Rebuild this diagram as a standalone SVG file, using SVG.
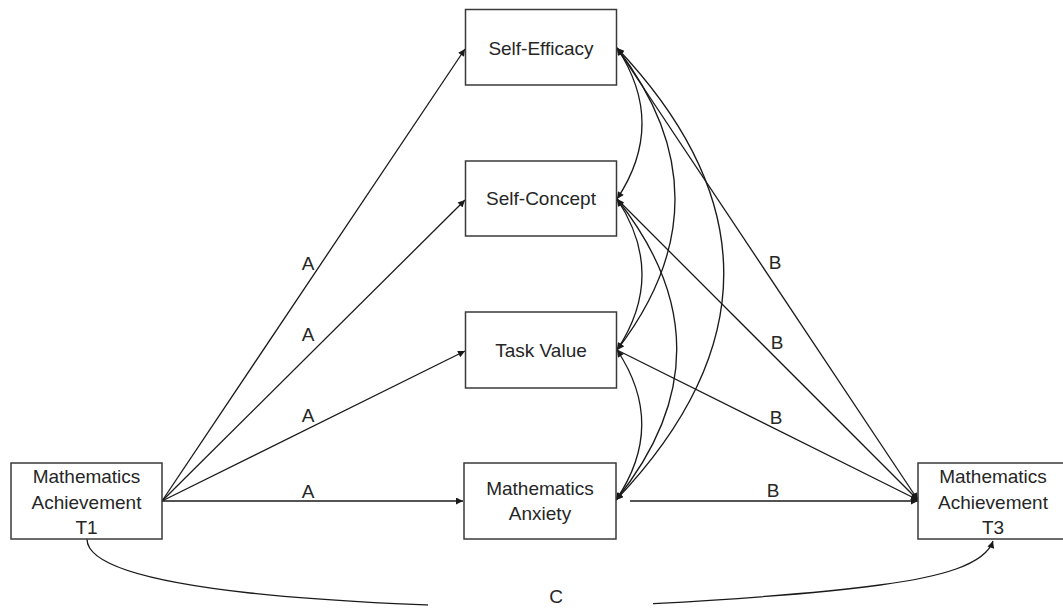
<svg xmlns="http://www.w3.org/2000/svg" width="1063" height="609" viewBox="0 0 1063 609">
<style>
.box{fill:#fff;stroke:#3a3a3a;stroke-width:1.5}
.t{font-family:"Liberation Sans",Arial,sans-serif;font-size:19px;fill:#262626;text-anchor:middle}
.lbl{font-family:"Liberation Sans",Arial,sans-serif;font-size:19px;fill:#262626;text-anchor:middle}
.c{fill:none;stroke:#1a1a1a;stroke-width:1.3}
</style>
<defs>
<marker id="ah" viewBox="0 0 10 10" refX="10" refY="5" markerWidth="10" markerHeight="7" markerUnits="userSpaceOnUse" orient="auto-start-reverse">
<path d="M0,0 L10,5 L0,10 z" fill="#1a1a1a"/>
</marker>
</defs>
<g id="connectors">
<line class="c" x1="162" y1="501" x2="465" y2="49" marker-end="url(#ah)"/>
<line class="c" x1="162" y1="501" x2="465" y2="200" marker-end="url(#ah)"/>
<line class="c" x1="162" y1="501" x2="465" y2="351" marker-end="url(#ah)"/>
<line class="c" x1="162" y1="501" x2="463" y2="501" marker-end="url(#ah)"/>
<line class="c" x1="617" y1="48" x2="918" y2="500" marker-end="url(#ah)"/>
<line class="c" x1="617" y1="199" x2="918" y2="500" marker-end="url(#ah)"/>
<line class="c" x1="617" y1="350" x2="918" y2="500" marker-end="url(#ah)"/>
<line class="c" x1="630" y1="501" x2="918" y2="501" marker-end="url(#ah)"/>
<path class="c" d="M617,48 Q667,123.5 617,199" marker-start="url(#ah)" marker-end="url(#ah)"/>
<path class="c" d="M617,199 Q667,274.5 617,350" marker-start="url(#ah)" marker-end="url(#ah)"/>
<path class="c" d="M617,350 Q667,425 616,500" marker-start="url(#ah)" marker-end="url(#ah)"/>
<path class="c" d="M617,48 Q733,199 617,350" marker-start="url(#ah)" marker-end="url(#ah)"/>
<path class="c" d="M617,199 Q737,350 616,500" marker-start="url(#ah)" marker-end="url(#ah)"/>
<path class="c" d="M617,48 Q831,274 616,500" marker-start="url(#ah)" marker-end="url(#ah)"/>
<path class="c" d="M87,539 C87,565 150,582 250,593 C330,602 460,607.5 540,607.5 C620,607.5 800,596 880,585 C940,577 985,565 993,541" marker-end="url(#ah)"/>
</g>
<rect x="428" y="584" width="225" height="25" fill="#fff"/>
<g id="t1"><rect class="box" x="11" y="463" width="151" height="76"/>
<text class="t" x="86.5" y="483">Mathematics</text><text class="t" x="86.5" y="508.5">Achievement</text><text class="t" x="86.5" y="534">T1</text></g>
<g id="t3"><rect class="box" x="918" y="463" width="151" height="76"/>
<text class="t" x="993" y="483">Mathematics</text><text class="t" x="993" y="508.5">Achievement</text><text class="t" x="993" y="534">T3</text></g>
<g id="se"><rect class="box" x="465.5" y="9.5" width="151" height="75.5"/><text class="t" x="541" y="55">Self-Efficacy</text></g>
<g id="sc"><rect class="box" x="465.5" y="161" width="151" height="75"/><text class="t" x="541" y="205">Self-Concept</text></g>
<g id="tv"><rect class="box" x="465.5" y="312" width="151" height="76"/><text class="t" x="541" y="357">Task Value</text></g>
<g id="ma"><rect class="box" x="464" y="463" width="152" height="76"/><text class="t" x="540" y="495">Mathematics</text><text class="t" x="540" y="520">Anxiety</text></g>
<g id="labels">
<text class="lbl" x="308" y="270">A</text>
<text class="lbl" x="308" y="341">A</text>
<text class="lbl" x="308" y="422">A</text>
<text class="lbl" x="308" y="498">A</text>
<text class="lbl" x="775" y="269">B</text>
<text class="lbl" x="777" y="349">B</text>
<text class="lbl" x="776" y="424">B</text>
<text class="lbl" x="773" y="497">B</text>
<text class="lbl" x="556" y="603">C</text>
</g>
</svg>
